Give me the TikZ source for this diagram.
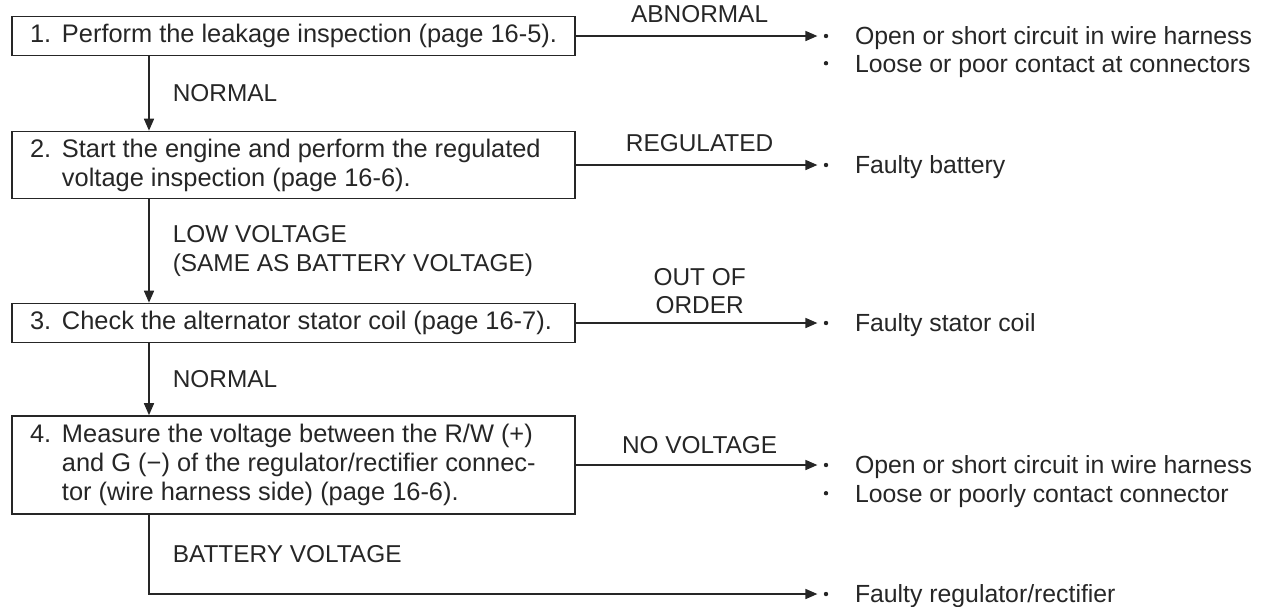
\documentclass[tikz,border=0pt]{standalone}
\usepackage{fontspec}
\setmainfont{Liberation Sans}
\usepackage{xcolor}
\usepackage{tikz}
\usetikzlibrary{arrows.meta,positioning}
\definecolor{ink}{HTML}{262626}
\newcommand{\nr}[1]{\makebox[16pt][l]{#1}}
\newcommand{\hang}{\hspace*{16pt}}
\tikzset{
  checkbox/.style={
    rectangle, draw=ink, line width=0.8pt, text=ink,
    text width=263.5pt, minimum height=#1, align=flush left,
    inner xsep=9pt, inner ysep=0pt,
    font=\fontsize{12.7pt}{14.5pt}\selectfont
  },
  checkbox/.default=19.5pt,
  flowarrow/.style={
    -{Triangle[length=6pt, width=5pt]}, line width=0.8pt, draw=ink
  },
  flowlabel/.style={
    text=ink, inner sep=0pt, align=left,
    font=\fontsize{12.2pt}{14pt}\selectfont
  },
  resultdot/.style={circle, fill=ink, inner sep=0pt, minimum size=2.2pt},
  resulttext/.style={
    text=ink, inner sep=0pt, text height=8.9pt, text depth=0pt,
    font=\fontsize{12.4pt}{14.5pt}\selectfont
  },
}
\hfuzz=20pt
\begin{document}
\begin{tikzpicture}[x=0.5pt, y=-0.5pt]
  \useasboundingbox (0,0) rectangle (1274,606);
  \coordinate (spine) at (149,0);
  \node[checkbox] (b1) at (293.5,36) {\nr{1.}Perform the leakage inspection (page 16-5).};
  \node[checkbox=33.5pt] (b2) at (293.5,165) {\nr{2.}Start the engine and perform the regulated\\\hang voltage inspection (page 16-6).};
  \node[checkbox] (b3) at (293.5,323) {\nr{3.}Check the alternator stator coil (page 16-7).};
  \node[checkbox=49pt] (b4) at (293.5,465) {\nr{4.}Measure the voltage between the R/W (+)\\\hang and G (−) of the regulator/rectifier connec-\\\hang tor (wire harness side) (page 16-6).};
  \draw[flowarrow] (b1.south -| spine) -- (b2.north -| spine) node[flowlabel, midway, right=11.5pt] {NORMAL};
  \draw[flowarrow] (b2.south -| spine) -- (b3.north -| spine) node[flowlabel, midway, right=11.5pt] {LOW VOLTAGE\\(SAME AS BATTERY VOLTAGE)};
  \draw[flowarrow] (b3.south -| spine) -- (b4.north -| spine) node[flowlabel, midway, right=11.5pt] {NORMAL};
  \node[resultdot] (d1) at (826,36) {};
  \node[resulttext, right=13pt of d1] (r1) {Open or short circuit in wire harness};
  \node[resultdot, below=11pt of d1] (d1b) {};
  \node[resulttext, right=13pt of d1b] (r1b) {Loose or poor contact at connectors};
  \node[resultdot] (d2) at (826,165) {};
  \node[resulttext, right=13pt of d2] (r2) {Faulty battery};
  \node[resultdot] (d3) at (826,323) {};
  \node[resulttext, right=13pt of d3] (r3) {Faulty stator coil};
  \node[resultdot] (d4) at (826,465) {};
  \node[resulttext, right=13pt of d4] (r4) {Open or short circuit in wire harness};
  \node[resultdot, below=11.5pt of d4] (d4b) {};
  \node[resulttext, right=13pt of d4b] (r4b) {Loose or poorly contact connector};
  \node[resultdot] (d5) at (826,594) {};
  \node[resulttext, right=13pt of d5] (r5) {Faulty regulator/rectifier};
  \draw[flowarrow, shorten >=3pt] (b1) -- (d1) node[flowlabel, midway, above=6pt] {ABNORMAL};
  \draw[flowarrow, shorten >=3pt] (b2) -- (d2) node[flowlabel, midway, above=6pt] {REGULATED};
  \draw[flowarrow, shorten >=3pt] (b3) -- (d3) node[flowlabel, align=center, midway, above=4pt] {OUT OF\\ORDER};
  \draw[flowarrow, shorten >=3pt] (b4) -- (d4) node[flowlabel, midway, above=5pt] {NO VOLTAGE};
  \draw[flowarrow, shorten >=3pt] (b4.south -| spine) |- (d5) node[flowlabel, pos=0.25, right=11.5pt] {BATTERY VOLTAGE};
\end{tikzpicture}
\end{document}
